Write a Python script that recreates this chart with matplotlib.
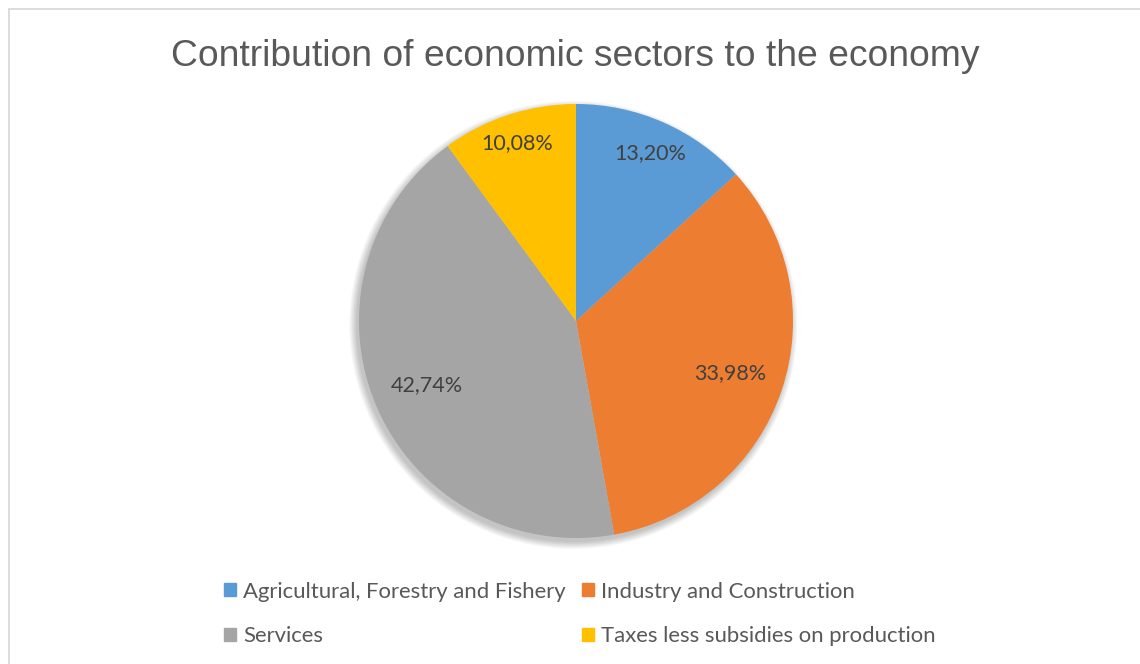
import numpy as np
import matplotlib.pyplot as plt
from matplotlib.patches import Circle
from matplotlib.lines import Line2D

sectors = ['Agricultural, Forestry and Fishery', 'Industry and Construction',
           'Services', 'Taxes less subsidies on production']
shares = [13.20, 33.98, 42.74, 10.08]
colors = ['#5B9BD5', '#ED7D31', '#A5A5A5', '#FFC000']
# radial position of each data label, as a fraction of the radius
label_r = [0.845, 0.75, 0.75, 0.865]

W, H = 1140, 664
fig = plt.figure(figsize=(W / 100, H / 100), dpi=100)
fig.patch.set_facecolor('white')

# chart-area border (left and top visible)
fig.add_artist(Line2D([8.5 / W, 8.5 / W], [0, 1 - 8.5 / H], color='#d9d9d9', lw=1.3))
fig.add_artist(Line2D([8.5 / W, 1], [1 - 8.5 / H, 1 - 8.5 / H], color='#d9d9d9', lw=1.3))

cx, cy, r = 576, 321, 217
ax = fig.add_axes([(cx - r) / W, (H - cy - r) / H, 2 * r / W, 2 * r / H])

# soft shadow under the pie
for k in range(12):
    ax.add_patch(Circle((-0.012, -0.018), 1.0 + 0.003 * k, color='black',
                        alpha=0.018, lw=0, zorder=0, clip_on=False))

wedges, _ = ax.pie(shares, colors=colors, startangle=90, counterclock=False,
                   radius=1.0, center=(0, 0), frame=True,
                   wedgeprops=dict(linewidth=0, zorder=1))
ax.set_xlim(-1, 1)
ax.set_ylim(-1, 1)
ax.axis('off')

for w, v, lr in zip(wedges, shares, label_r):
    ang = np.deg2rad((w.theta1 + w.theta2) / 2)
    ax.text(lr * np.cos(ang), lr * np.sin(ang), f'{v:.2f}'.replace('.', ',') + '%',
            ha='center', va='center', fontsize=15.5, color='#404040',
            family='Lato', zorder=3)

fig.text(575 / W, 1 - 56 / H, 'Contribution of economic sectors to the economy',
         ha='center', va='center', fontsize=26.8, color='#595959',
         family='Liberation Sans')

# legend filled row by row
order = [0, 2, 1, 3]
handles = [plt.Rectangle((0, 0), 1, 1, color=colors[i]) for i in order]
fig.legend(handles, [sectors[i] for i in order], ncol=2, loc='center',
           bbox_to_anchor=(580 / W, 1 - 614 / H),
           frameon=False, prop=dict(family='Lato', size=15.9), labelcolor='#595959',
           handlelength=0.55, handleheight=0.55, handletextpad=0.3,
           columnspacing=0.75, labelspacing=1.12)

fig.savefig('out.png', dpi=100)
